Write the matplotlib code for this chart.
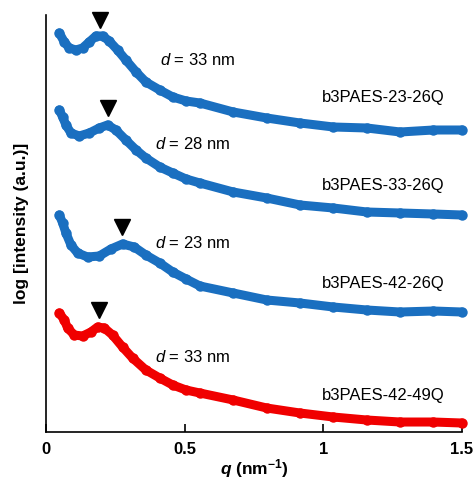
import matplotlib
matplotlib.use('Agg')
import matplotlib.pyplot as plt

plt.rcParams['font.family'] = ['Liberation Sans', 'DejaVu Sans']
plt.rcParams['mathtext.fontset'] = 'custom'
plt.rcParams['mathtext.it'] = 'Liberation Sans:italic'
plt.rcParams['mathtext.rm'] = 'Liberation Sans:bold'
plt.rcParams['mathtext.bfit'] = 'Liberation Sans:italic:bold'

# q (nm^-1) and log intensity (a.u., curves stacked with offsets)
q_23_26 = [0.048, 0.066, 0.084, 0.108, 0.132, 0.156, 0.18, 0.204, 0.228, 0.258, 0.288,
           0.325, 0.36, 0.41, 0.457, 0.505, 0.555, 0.675, 0.796, 0.916, 1.036, 1.157,
           1.277, 1.397, 1.5]
i_23_26 = [3.99, 3.90, 3.84, 3.82, 3.84, 3.90, 3.96, 3.96, 3.91, 3.82, 3.72,
           3.60, 3.50, 3.42, 3.35, 3.31, 3.29, 3.20, 3.14, 3.09, 3.05, 3.04,
           3.00, 3.02, 3.02]

q_33_26 = [0.048, 0.06, 0.072, 0.09, 0.12, 0.156, 0.192, 0.222, 0.252, 0.288, 0.325,
           0.36, 0.41, 0.457, 0.505, 0.555, 0.675, 0.796, 0.916, 1.036, 1.157, 1.277,
           1.397, 1.5]
i_33_26 = [3.22, 3.15, 3.07, 2.99, 2.96, 2.99, 3.04, 3.07, 3.02, 2.92, 2.82,
           2.74, 2.65, 2.59, 2.53, 2.49, 2.40, 2.34, 2.27, 2.24, 2.20, 2.19,
           2.18, 2.17]

q_42_26 = [0.048, 0.06, 0.072, 0.09, 0.114, 0.15, 0.192, 0.234, 0.276, 0.318, 0.36,
           0.41, 0.457, 0.505, 0.555, 0.675, 0.796, 0.916, 1.036, 1.157, 1.277, 1.397,
           1.5]
i_42_26 = [2.17, 2.09, 1.99, 1.87, 1.79, 1.75, 1.76, 1.83, 1.88, 1.85, 1.77,
           1.69, 1.60, 1.53, 1.46, 1.39, 1.32, 1.29, 1.25, 1.22, 1.20, 1.21,
           1.20]

q_42_49 = [0.048, 0.066, 0.078, 0.102, 0.132, 0.162, 0.186, 0.21, 0.24, 0.276, 0.312,
           0.36, 0.41, 0.457, 0.505, 0.555, 0.675, 0.796, 0.916, 1.036, 1.157, 1.277,
           1.397, 1.5]
i_42_49 = [1.19, 1.12, 1.04, 0.97, 0.96, 1.00, 1.05, 1.04, 0.97, 0.85, 0.74,
           0.62, 0.54, 0.47, 0.42, 0.39, 0.32, 0.24, 0.19, 0.15, 0.12, 0.10,
           0.10, 0.09]

samples = ['b3PAES-23-26Q', 'b3PAES-33-26Q', 'b3PAES-42-26Q', 'b3PAES-42-49Q']
d_spacing = [33, 28, 23, 33]
peak_q = [0.195, 0.225, 0.275, 0.19]
peak_mark = [4.12, 3.24, 2.05, 1.22]
series = [(q_23_26, i_23_26), (q_33_26, i_33_26), (q_42_26, i_42_26), (q_42_49, i_42_49)]
colors = ['#1a6fc0', '#1a6fc0', '#1a6fc0', '#f00000']
d_label_pos = [(0.548, 3.72), (0.53, 2.88), (0.527, 1.89), (0.53, 0.75)]
name_label_pos = [(1.215, 3.34), (1.215, 2.47), (1.215, 1.49), (1.215, 0.37)]

fig = plt.figure(figsize=(4.77, 4.82), dpi=100)
ax = fig.add_axes([0.0964, 0.1037, 0.8722, 0.8652])

for k, (qq, ii) in enumerate(series):
    ax.plot(qq, ii, '-o', color=colors[k], lw=6.5, ms=7.5, mew=0,
            solid_capstyle='round', solid_joinstyle='round', clip_on=False, zorder=2)
    ax.plot(peak_q[k], peak_mark[k], marker='v', color='black', ms=11, clip_on=False)
    ax.text(*d_label_pos[k], f'$d$ = {d_spacing[k]} nm',
            fontsize=12, ha='center', va='center')
    ax.text(*name_label_pos[k], samples[k], fontsize=12, ha='center', va='center')

ax.set_xlim(0, 1.5)
ax.set_ylim(0, 4.17)
ax.set_xticks([0, 0.5, 1, 1.5])
ax.set_xticklabels(['0', '0.5', '1', '1.5'], fontsize=12, fontweight='bold')
ax.set_yticks([])
ax.tick_params(axis='x', direction='in', length=6, width=1.2, pad=7)
ax.spines['top'].set_visible(False)
ax.spines['right'].set_visible(False)
ax.spines['left'].set_linewidth(1.2)
ax.spines['bottom'].set_linewidth(1.2)

ax.set_xlabel(r'$\mathbfit{q}$ (nm$^{-1}$)', fontsize=12.5, fontweight='bold', labelpad=0)
ax.set_ylabel('log [intensity (a.u.)]', fontsize=12.5, fontweight='bold', labelpad=12)

plt.savefig('out.png', dpi=100)
plt.close()
